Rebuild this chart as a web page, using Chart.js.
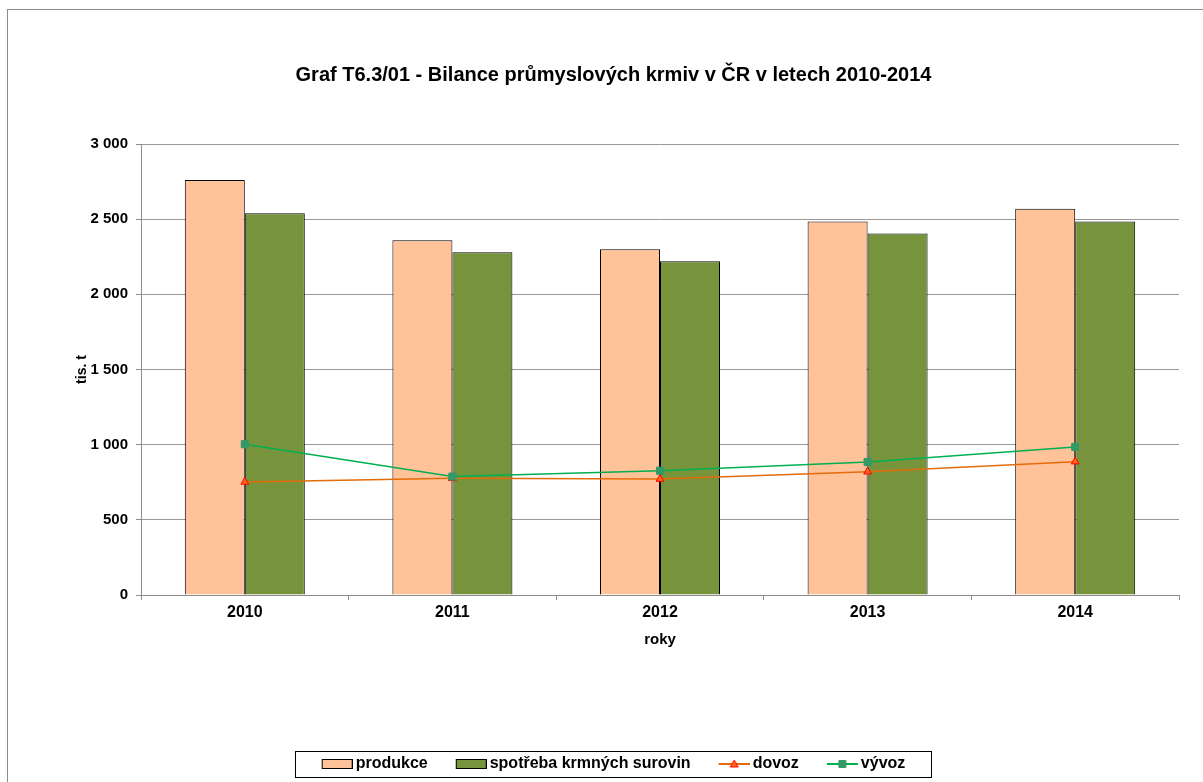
<!DOCTYPE html>
<html lang="cs">
<head>
    <meta charset="UTF-8">
    <title>Graf T6.3/01</title>
    <script src="https://cdn.jsdelivr.net/npm/chart.js"></script>
    <style>
        body {
            margin: 0;
            background-color: #ffffff;
            font-family: "Liberation Sans", Arial, sans-serif;
        }

        .frame {
            position: absolute;
            left: 7px;
            top: 9px;
            width: 1300px;
            height: 900px;
            border-top: 1px solid #8c8c8c;
            border-left: 1px solid #8c8c8c;
        }

        .chart-box {
            position: absolute;
            left: 0;
            top: 0;
            width: 1203px;
            height: 782px;
        }
    </style>
</head>
<body>
    <div class="frame"></div>
    <div class="chart-box">
        <canvas id="grafico"></canvas>
    </div>

    <script>
        const roky = ['2010', '2011', '2012', '2013', '2014'];
        const produkce = [2760, 2360, 2300, 2485, 2570];
        const spotreba = [2540, 2280, 2220, 2405, 2485];
        const dovoz = [752, 776, 771, 820, 887];
        const vyvoz = [1003, 788, 827, 885, 985];
        const yTicks = [0, 500, 1000, 1500, 2000, 2500, 3000];

        const font = '"Liberation Sans", Arial, sans-serif';

        // ikonky do legendy (obdelnik / cara se znackou)
        function ikona(typ, barva, okraj) {
            const c = document.createElement('canvas');
            c.width = 36;
            c.height = 12;
            const g = c.getContext('2d');
            if (typ === 'box') {
                g.fillStyle = barva;
                g.fillRect(5.5, 1.5, 30, 9);
                g.strokeStyle = '#000000';
                g.lineWidth = 1;
                g.strokeRect(5.5, 1.5, 30, 9);
            } else {
                g.strokeStyle = barva;
                g.lineWidth = 2;
                g.beginPath();
                g.moveTo(5, 6);
                g.lineTo(36, 6);
                g.stroke();
                g.fillStyle = okraj.fill;
                g.strokeStyle = okraj.stroke;
                g.lineWidth = 1;
                g.beginPath();
                if (typ === 'tri') {
                    g.moveTo(20.5, 2);
                    g.lineTo(24.5, 9);
                    g.lineTo(16.5, 9);
                    g.closePath();
                } else {
                    g.rect(17, 2.5, 7, 7);
                }
                g.fill();
                g.stroke();
            }
            return c;
        }

        const ikony = [
            ikona('box', '#FFC299'),
            ikona('box', '#77933C'),
            ikona('tri', '#E46C0A', { fill: '#FF6A1A', stroke: '#FF0000' }),
            ikona('sq', '#00B050', { fill: '#339966', stroke: '#339966' })
        ];

        const ramecekLegendy = {
            id: 'ramecekLegendy',
            afterDraw(chart) {
                const boxes = chart.legend.legendHitBoxes;
                if (!boxes || !boxes.length) return;
                const left = Math.min(...boxes.map(b => b.left));
                const right = Math.max(...boxes.map(b => b.left + b.width));
                const top = boxes[0].top;
                const ctx = chart.ctx;
                ctx.save();
                ctx.strokeStyle = '#000000';
                ctx.lineWidth = 1;
                ctx.strokeRect(Math.round(left - 27) + 0.5, Math.round(top - 5) + 0.5,
                    Math.round(right - left + 52), 26);
                ctx.restore();
            }
        };

        const ctx = document.getElementById('grafico').getContext('2d');
        const chart = new Chart(ctx, {
            type: 'bar',
            data: {
                labels: roky,
                datasets: [
                    {
                        label: 'produkce',
                        data: produkce,
                        backgroundColor: '#FFC299',
                        borderColor: '#000000',
                        borderWidth: 1,
                        categoryPercentage: 0.578,
                        barPercentage: 1,
                        order: 2
                    },
                    {
                        label: 'spotřeba krmných surovin',
                        data: spotreba,
                        backgroundColor: '#77933C',
                        borderColor: '#000000',
                        borderWidth: 1,
                        categoryPercentage: 0.578,
                        barPercentage: 1,
                        order: 2
                    },
                    {
                        type: 'line',
                        label: 'dovoz',
                        data: dovoz,
                        borderColor: '#E46C0A',
                        borderWidth: 1.5,
                        pointStyle: 'triangle',
                        pointRadius: 4.5,
                        pointBackgroundColor: '#FF6A1A',
                        pointBorderColor: '#FF0000',
                        pointBorderWidth: 1,
                        tension: 0,
                        order: 1
                    },
                    {
                        type: 'line',
                        label: 'vývoz',
                        data: vyvoz,
                        borderColor: '#00B050',
                        borderWidth: 1.5,
                        pointStyle: 'rect',
                        pointRadius: 5,
                        pointBackgroundColor: '#339966',
                        pointBorderColor: '#339966',
                        pointBorderWidth: 1,
                        tension: 0,
                        order: 0
                    }
                ]
            },
            options: {
                responsive: true,
                maintainAspectRatio: false,
                animation: false,
                layout: {
                    padding: { left: 48, right: 24, top: 0, bottom: 0 }
                },
                scales: {
                    x: {
                        offset: true,
                        border: { color: '#8c8c8c', width: 1 },
                        grid: {
                            offset: true,
                            drawOnChartArea: false,
                            tickLength: 5,
                            tickColor: '#8c8c8c',
                            color: '#8c8c8c'
                        },
                        ticks: {
                            color: '#000000',
                            padding: 3,
                            font: { family: font, size: 16, weight: 'bold' }
                        },
                        title: {
                            display: true,
                            text: 'roky',
                            color: '#000000',
                            padding: { top: 4, bottom: 79 },
                            font: { family: font, size: 15, weight: 'bold' }
                        },
                        afterFit(axis) {
                            axis.height = 133;
                        }
                    },
                    y: {
                        min: 0,
                        max: 3000,
                        afterBuildTicks(axis) {
                            axis.ticks = yTicks.map(v => ({ value: v }));
                        },
                        border: { color: '#8c8c8c', width: 1 },
                        grid: {
                            color: '#999999',
                            lineWidth: 1,
                            tickLength: 5,
                            tickColor: '#8c8c8c'
                        },
                        ticks: {
                            color: '#000000',
                            padding: 8,
                            font: { family: font, size: 15, weight: 'bold' },
                            callback: v => String(v).replace(/\B(?=(\d{3})+(?!\d))/g, ' ')
                        },
                        title: {
                            display: true,
                            text: 'tis. t',
                            color: '#000000',
                            padding: { top: 26, bottom: 0 },
                            font: { family: font, size: 14, weight: 'bold' }
                        },
                        afterFit(axis) {
                            axis.width = 93;
                        }
                    }
                },
                plugins: {
                    title: {
                        display: true,
                        text: 'Graf T6.3/01 - Bilance průmyslových krmiv v ČR v letech 2010-2014',
                        color: '#000000',
                        padding: { top: 63, bottom: 57 },
                        font: { family: font, size: 20, weight: 'bold' }
                    },
                    legend: {
                        position: 'bottom',
                        labels: {
                            usePointStyle: true,
                            pointStyleWidth: 26,
                            padding: 28,
                            color: '#000000',
                            font: { family: font, size: 16, weight: 'bold' },
                            generateLabels: chart => chart.data.datasets.map((ds, i) => ({
                                text: ds.label,
                                pointStyle: ikony[i],
                                datasetIndex: i,
                                hidden: false,
                                lineWidth: 0,
                                fillStyle: 'transparent',
                                strokeStyle: 'transparent',
                                fontColor: '#000000'
                            }))
                        }
                    },
                    tooltip: { enabled: false }
                }
            },
            plugins: [ramecekLegendy]
        });
    </script>
</body>
</html>
